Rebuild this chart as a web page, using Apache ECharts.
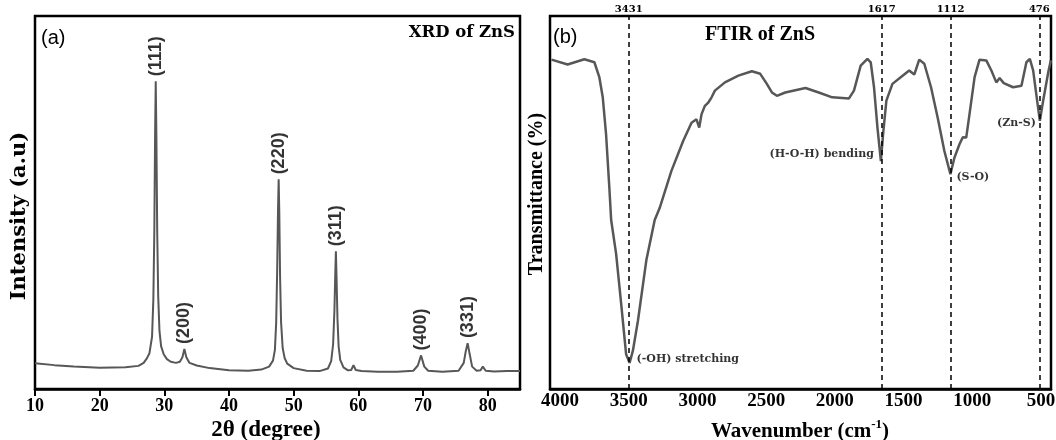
<!DOCTYPE html>
<html>
<head>
<meta charset="utf-8">
<script src="https://cdn.jsdelivr.net/npm/echarts@6.0.0/dist/echarts.min.js"></script>
<style>
  html, body { margin: 0; padding: 0; background: #fff; }
  #chart { width: 1056px; height: 440px; }
</style>
</head>
<body>
<div id="chart"></div>
<script>
// (a) XRD pattern
const xrdAngle = [10, 13, 16, 20, 24, 26.0, 26.8, 27.3, 27.7, 28.1, 28.3, 28.45, 28.57, 28.67, 28.77, 28.9, 29.05, 29.25, 29.5, 29.9,
  30.4, 31.0, 31.8, 32.4, 32.8, 33.1, 33.4, 33.9, 35, 37, 40, 43, 45, 46.2, 46.8, 47.1, 47.3, 47.45, 47.58, 47.68,
  47.78, 47.9, 48.05, 48.3, 48.6, 49.0, 50, 52, 54, 55.3, 55.8, 56.1, 56.3, 56.45, 56.53, 56.63, 56.77, 56.95, 57.2, 57.7,
  58.4, 58.9, 59.25, 59.6, 60.5, 63, 66, 68.5, 69.2, 69.7, 70.2, 70.8, 73, 75.5, 76.3, 76.6, 76.9, 77.2, 77.6, 78.3,
  78.9, 79.25, 79.7, 81, 83, 85];
const xrdIntensity = [6.9, 6.4, 6.0, 5.7, 5.8, 6.2, 7.0, 8.2, 9.6, 14, 24, 42, 68, 82.5, 68, 42, 25, 15.5, 11.5, 9.3,
  8.0, 7.3, 7.0, 7.3, 8.5, 10.7, 8.5, 7.0, 6.3, 5.6, 5.0, 4.9, 5.2, 6.0, 7.6, 10.5, 18, 32, 48, 56.2,
  47, 30, 18, 11, 8.3, 6.8, 5.6, 4.9, 4.8, 5.5, 7.5, 12, 21, 32, 36.9, 30, 19, 11.5, 7.8, 5.8,
  5.0, 5.1, 6.4, 5.1, 4.8, 4.6, 4.6, 4.9, 6.3, 9.0, 6.0, 4.9, 4.6, 4.9, 7.0, 10.0, 12.3, 9.5, 6.0, 4.9,
  5.0, 6.0, 4.9, 4.7, 4.8, 4.8];
const xrdPeakAngle = [28.67, 33.1, 47.68, 56.53, 69.7, 76.9];
const xrdPeakHeight = [82.5, 10.7, 56.2, 36.9, 9.0, 12.3];
const xrdPeakLabels = ['(111)', '(200)', '(220)', '(311)', '(400)', '(331)'];
const xrdTicks = [10, 20, 30, 40, 50, 60, 70, 80];

// (b) FTIR spectrum
const ftirWave = [4062, 3945, 3823, 3750, 3714, 3689, 3665, 3641, 3628, 3592, 3555, 3519, 3494, 3470, 3433, 3372, 3311, 3275, 3190, 3104,
  3043, 3007, 2987, 2970, 2946, 2921, 2897, 2873, 2800, 2702, 2604, 2543, 2495, 2458, 2422, 2361, 2214, 2117, 2019, 1897,
  1861, 1812, 1763, 1739, 1715, 1690, 1665, 1649, 1625, 1581, 1507, 1459, 1422, 1386, 1349, 1300, 1252, 1203, 1159, 1130,
  1093, 1069, 1044, 1020, 983, 947, 898, 861, 825, 801, 771, 703, 642, 606, 581, 557, 528, 508, 484, 447, 428];
const ftirTrans = [88.3, 87.0, 88.4, 87.6, 83.6, 78.2, 68.3, 53.9, 45.3, 36.3, 22.8, 9.3, 7.0, 10.2, 18.3, 34.5, 45.3, 48.5, 58.4, 66.5,
  71.4, 72.3, 70.1, 73.7, 75.9, 76.8, 78.2, 80.0, 82.2, 84.0, 85.2, 84.5, 81.8, 79.5, 78.6, 79.5, 80.7, 79.5, 78.2, 77.9,
  80.0, 86.7, 88.5, 87.6, 80.9, 70.1, 61.1, 68.3, 77.3, 81.8, 84.0, 85.4, 84.3, 88.3, 87.2, 80.9, 72.8, 63.8, 57.6, 62.0,
  65.6, 67.5, 67.4, 73.7, 83.6, 88.3, 88.1, 85.4, 82.2, 83.4, 82.0, 80.9, 81.3, 87.6, 88.5, 85.4, 77.3, 71.9, 77.3, 84.9, 88.1];
const ftirTicks = [4000, 3500, 3000, 2500, 2000, 1500, 1000, 500];
const bandLinePos = [3500, 1659, 1158, 512];
const bandLineLabels = ['3431', '1617', '1112', '476'];
const bandPointWave = [3494, 1665, 1159, 508];
const bandPointTrans = [7.0, 61.1, 57.6, 71.9];
const bandNames = ['(-OH) stretching', '(H-O-H) bending', '(S-O)', '(Zn-S)'];

const chart = echarts.init(document.getElementById('chart'), null, { renderer: 'canvas' });

const serif = 'Liberation Serif';
const curveColor = '#575757';
const bandPlacement = [
  { position: 'right', distance: 7, offset: [0, -3.5] },
  { position: 'left', distance: 7, offset: [0, -6.5] },
  { position: 'right', distance: 6, offset: [0, 3] },
  { position: 'left', distance: 4, offset: [0, 2] },
];

const option = {
  animation: false,
  backgroundColor: '#fff',
  grid: [
    { left: 35, right: 536, top: 16, bottom: 51, show: true, borderColor: '#000', borderWidth: 2.5, outerBoundsMode: 'none' },
    { left: 550, right: 5, top: 16, bottom: 51, show: true, borderColor: '#000', borderWidth: 2.5, outerBoundsMode: 'none' },
  ],
  xAxis: [
    {
      type: 'value', gridIndex: 0, min: 10, max: 85,
      axisLine: { show: true, lineStyle: { color: '#000', width: 2.5 } },
      axisTick: { show: true, inside: false, length: 7, customValues: xrdTicks, lineStyle: { color: '#000', width: 2 } },
      axisLabel: { customValues: xrdTicks, margin: 8, color: '#000', fontFamily: serif, fontWeight: 'bold', fontSize: 18,
        formatter: (v) => String(v) },
      splitLine: { show: false },
    },
    {
      type: 'value', gridIndex: 1, inverse: true, min: 427, max: 4073,
      axisLine: { show: true, lineStyle: { color: '#000', width: 2.5 } },
      axisTick: { show: false },
      axisLabel: { customValues: ftirTicks, margin: 3, color: '#000', fontFamily: serif, fontWeight: 'bold', fontSize: 19,
        formatter: (v) => String(v) },
      splitLine: { show: false },
    },
  ],
  yAxis: [
    { type: 'value', gridIndex: 0, min: 0, max: 100, axisLine: { show: false }, axisTick: { show: false },
      axisLabel: { show: false }, splitLine: { show: false } },
    { type: 'value', gridIndex: 1, min: 0, max: 100, axisLine: { show: false }, axisTick: { show: false },
      axisLabel: { show: false }, splitLine: { show: false } },
  ],
  series: [
    {
      name: 'XRD', type: 'line', xAxisIndex: 0, yAxisIndex: 0,
      data: xrdAngle.map((a, i) => [a, xrdIntensity[i]]),
      symbol: 'none', lineStyle: { color: curveColor, width: 2 }, silent: true,
    },
    {
      name: 'XRD peaks', type: 'scatter', xAxisIndex: 0, yAxisIndex: 0, symbolSize: 0, silent: true,
      data: xrdPeakAngle.map((a, i) => ({ value: [a, xrdPeakHeight[i]], name: xrdPeakLabels[i] })),
      label: {
        show: true, formatter: '{b}', position: 'top', distance: 5, rotate: 90,
        align: 'left', verticalAlign: 'middle',
        color: '#000', fontFamily: 'Liberation Sans', fontWeight: 'bold', fontSize: 18,
      },
    },
    {
      name: 'FTIR', type: 'line', xAxisIndex: 1, yAxisIndex: 1,
      data: ftirWave.map((w, i) => [w, ftirTrans[i]]),
      symbol: 'none', lineStyle: { color: curveColor, width: 2.5 }, silent: true,
      markLine: {
        silent: true, symbol: ['none', 'none'],
        lineStyle: { color: '#000', type: [5, 4], width: 1.5 },
        label: { show: true, position: 'end', distance: 2, formatter: (p) => p.name,
          color: '#000', fontFamily: 'DejaVu Serif', fontWeight: 'bold', fontSize: 10 },
        data: bandLinePos.map((v, i) => ({ xAxis: v, name: bandLineLabels[i] })),
      },
    },
    {
      name: 'FTIR bands', type: 'scatter', xAxisIndex: 1, yAxisIndex: 1, symbolSize: 0, silent: true,
      data: bandPointWave.map((w, i) => ({
        value: [w, bandPointTrans[i]], name: bandNames[i],
        label: bandPlacement[i],
      })),
      label: { show: true, formatter: '{b}', color: '#000', fontFamily: 'DejaVu Serif', fontWeight: 'bold', fontSize: 11 },
    },
  ],
  graphic: [
    { type: 'text', x: 41, y: 38, style: { text: '(a)', fill: '#000', font: '20px "Liberation Sans"', align: 'left', verticalAlign: 'middle' } },
    { type: 'text', x: 515, y: 33, style: { text: 'XRD of ZnS', fill: '#000', font: 'bold 16.5px "DejaVu Serif"', align: 'right', verticalAlign: 'middle' } },
    { type: 'text', x: 553, y: 37, style: { text: '(b)', fill: '#000', font: '20px "Liberation Sans"', align: 'left', verticalAlign: 'middle' } },
    { type: 'text', x: 760, y: 35, style: { text: 'FTIR of ZnS', fill: '#000', font: 'bold 20px "Liberation Serif"', align: 'center', verticalAlign: 'middle' } },
    { type: 'text', x: 20, y: 216, rotation: Math.PI / 2, style: { text: 'Intensity (a.u)', fill: '#000', font: 'bold 21px "DejaVu Serif"', align: 'center', verticalAlign: 'middle' } },
    { type: 'text', x: 266, y: 430, style: { text: '2θ (degree)', fill: '#000', font: 'bold 23px "Liberation Serif"', align: 'center', verticalAlign: 'middle' } },
    { type: 'text', x: 537, y: 194, rotation: Math.PI / 2, style: { text: 'Transmittance (%)', fill: '#000', font: 'bold 20px "Liberation Serif"', align: 'center', verticalAlign: 'middle' } },
    {
      type: 'text', x: 800, y: 430,
      style: {
        text: '{a|Wavenumber (cm}{s|-1}{a|)}', align: 'center', verticalAlign: 'middle',
        rich: {
          a: { fill: '#000', fontFamily: serif, fontWeight: 'bold', fontSize: 21, lineHeight: 24, verticalAlign: 'bottom' },
          s: { fill: '#000', fontFamily: serif, fontWeight: 'bold', fontSize: 13, lineHeight: 13, verticalAlign: 'top' },
        },
      },
    },
  ],
};

chart.setOption(option);
</script>
</body>
</html>
